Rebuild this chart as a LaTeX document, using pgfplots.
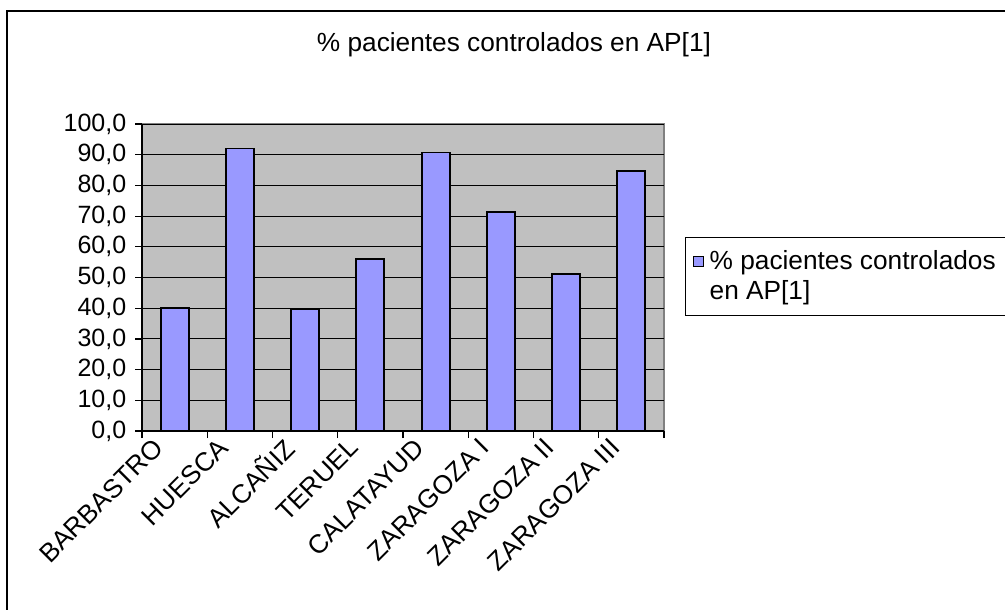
\documentclass[border=0pt]{standalone}
\usepackage{fontspec}
\setmainfont{Liberation Sans}
\usepackage{pgfplots}
\pgfplotsset{compat=1.18}
\newdimen\pxu \pxu=0.4pt
\definecolor{plotbg}{HTML}{C0C0C0}
\definecolor{barblue}{HTML}{9999FF}
\definecolor{bordergray}{HTML}{808080}
\begin{document}
\begin{tikzpicture}
\useasboundingbox (0,0) rectangle (1005\pxu,-609\pxu);
\fill[white] (0,0) rectangle (1005\pxu,-609\pxu);
\draw[black, line width=2.5\pxu] (7\pxu,-700\pxu) -- (7\pxu,-11\pxu) -- (1100\pxu,-11\pxu);
\begin{axis}[
  at={(142\pxu,-431\pxu)}, anchor=south west,
  scale only axis, width=522\pxu, height=307\pxu,
  xmin=0.5, xmax=8.5, ymin=0, ymax=100,
  axis background/.style={fill=plotbg, draw=bordergray, line width=1.5\pxu},
  axis on top=false,
  axis lines*=left,
  axis line style={black, line width=1.2\pxu},
  ymajorgrids, grid style={black, line width=1.0\pxu},
  tick align=outside,
  major tick length=7\pxu, minor tick length=7\pxu,
  tick style={black, line width=1.2\pxu},
  xtick={1,...,8},
  xticklabels={BARBASTRO,HUESCA,ALCAÑIZ,TERUEL,CALATAYUD,ZARAGOZA I,ZARAGOZA II,ZARAGOZA III},
  major x tick style={draw=none},
  minor xtick={0.5,1.5,...,8.5},
  ytick={0,10,...,100},
  tick label style={font=\fontsize{10}{12}\selectfont},
  xticklabel style={xshift=-16\pxu, yshift=-5\pxu, rotate=45, anchor=east, inner sep=0pt, font=\fontsize{10.5}{12}\selectfont},
  yticklabel style={/pgf/number format/fixed, /pgf/number format/fixed zerofill, /pgf/number format/precision=1, /pgf/number format/use comma, /pgf/number format/assume math mode=true},
  title={\% pacientes controlados en AP[1]},
  title style={at={(axis description cs:0.7126,1.2085)}, anchor=center, font=\fontsize{10.5}{12}\selectfont},
  legend style={at={(axis description cs:1.040,0.632)}, anchor=north west, draw=black, line width=1.2\pxu,
    font=\fontsize{10.5}{12}\selectfont, cells={anchor=west, align=left}, inner xsep=3pt, inner ysep=3pt},
  legend image code/.code={\path[draw=none, fill=none] (0,-22\pxu) rectangle (11\pxu,22\pxu); \draw[fill=barblue, draw=black, line width=1.5\pxu] (0\pxu,10\pxu) rectangle (10\pxu,20\pxu);},
]
\addplot[ybar, bar width=28\pxu, bar shift=0pt, fill=barblue, draw=black, line width=1.8\pxu]
  coordinates {(1,40.0) (2,92.0) (3,39.8) (4,56.1) (5,90.7) (6,71.3) (7,51.2) (8,84.8)};
\addlegendentry{\% pacientes controlados\hspace*{20pt}\\en AP[1]}
\end{axis}
\end{tikzpicture}
\end{document}
